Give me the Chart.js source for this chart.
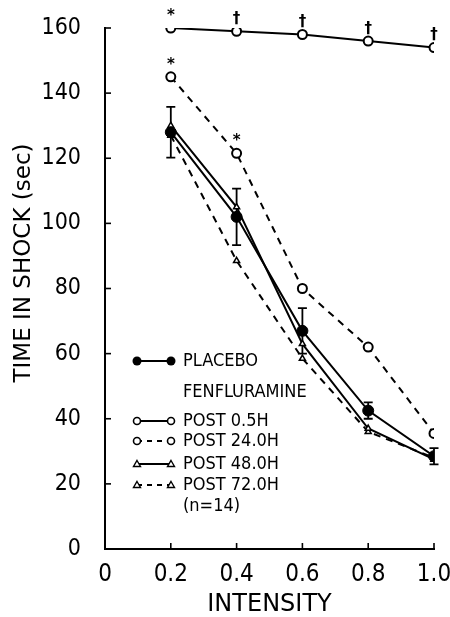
<!DOCTYPE html>
<html><head><meta charset="utf-8">
<script src="https://cdn.jsdelivr.net/npm/chart.js@4/dist/chart.umd.min.js"></script>
<style>html,body{margin:0;padding:0;background:#fff}</style>
</head><body>
<canvas id="c" width="450" height="617" style="width:450px;height:617px;display:block"></canvas>
<script>
// ---- data ----
const intensities = [0.2, 0.4, 0.6, 0.8, 1.0];
const xTickLabels = ['0', '0.2', '0.4', '0.6', '0.8', '1.0'];
const yTickValues = [0, 20, 40, 60, 80, 100, 120, 140, 160];
const placebo    = [128, 102, 67, 42.5, 28.5];
const placeboErr = [7.8, 8.7, 7, 2.5, 2.5];
const post05     = [160, 159, 158, 156, 154];
const post24     = [145, 121.5, 80, 62, 35.5];
const post48     = [130, 105, 63, 37, 27.5];
const post72     = [127, 88.5, 58.5, 36, 28];
const marks05    = ['*', '†', '†', '†', '†'];
const marks24    = ['*', '*', '', '', ''];
const xTitle = 'INTENSITY';
const yTitle = 'TIME IN SHOCK (sec)';
const legendHeader = 'FENFLURAMINE';
const legendNote = '(n=14)';

const FONT = "'DejaVu Sans Condensed', 'Liberation Sans Narrow', sans-serif";
const pts = arr => intensities.map((x, i) => ({x, y: arr[i]}));

const datasets = [
  {label: 'PLACEBO', data: pts(placebo), borderColor: '#000', borderWidth: 2,
   pointStyle: 'circle', pointRadius: 5.5, pointBackgroundColor: '#000', pointBorderColor: '#000', pointBorderWidth: 1, order: 0},
  {label: 'POST 0.5H', data: pts(post05), borderColor: '#000', borderWidth: 2,
   pointStyle: 'circle', pointRadius: 4.5, pointBackgroundColor: '#fff', pointBorderColor: '#000', pointBorderWidth: 2, order: 1},
  {label: 'POST 24.0H', data: pts(post24), borderColor: '#000', borderWidth: 2, borderDash: [7, 6],
   pointStyle: 'circle', pointRadius: 4.5, pointBackgroundColor: '#fff', pointBorderColor: '#000', pointBorderWidth: 2, order: 2},
  {label: 'POST 48.0H', data: pts(post48), borderColor: '#000', borderWidth: 2,
   pointStyle: 'triangle', pointRadius: 3.5, pointBackgroundColor: '#fff', pointBorderColor: '#000', pointBorderWidth: 1.5, order: 3},
  {label: 'POST 72.0H', data: pts(post72), borderColor: '#000', borderWidth: 2, borderDash: [7, 6],
   pointStyle: 'triangle', pointRadius: 3.5, pointBackgroundColor: '#fff', pointBorderColor: '#000', pointBorderWidth: 1.5, order: 4}
];

const legendRows = [
  {ds: 0, y: 361, dash: [], marker: 'fcircle'},
  {text: legendHeader, y: 392},
  {ds: 1, y: 421, dash: [], marker: 'ocircle'},
  {ds: 2, y: 441, dash: [5, 5], marker: 'ocircle'},
  {ds: 3, y: 464, dash: [], marker: 'tri'},
  {ds: 4, y: 485, dash: [5, 5], marker: 'tri'},
  {text: legendNote, y: 506}
];

function drawMarker(ctx, type, x, y) {
  ctx.save();
  ctx.setLineDash([]);
  ctx.strokeStyle = '#000';
  if (type === 'fcircle') {
    ctx.fillStyle = '#000'; ctx.beginPath(); ctx.arc(x, y, 4.5, 0, Math.PI * 2); ctx.fill();
  } else if (type === 'ocircle') {
    ctx.fillStyle = '#fff'; ctx.lineWidth = 1.6; ctx.beginPath(); ctx.arc(x, y, 3.5, 0, Math.PI * 2); ctx.fill(); ctx.stroke();
  } else {
    ctx.fillStyle = '#fff'; ctx.lineWidth = 1.4; ctx.beginPath();
    ctx.moveTo(x, y - 3.5); ctx.lineTo(x + 3.5, y + 2.5); ctx.lineTo(x - 3.5, y + 2.5); ctx.closePath(); ctx.fill(); ctx.stroke();
  }
  ctx.restore();
}

const decor = {
  id: 'decor',
  beforeDatasetsDraw(chart) {
    const ctx = chart.ctx, xs = chart.scales.x, ys = chart.scales.y;
    ctx.save(); ctx.strokeStyle = '#000'; ctx.lineWidth = 1.8;
    intensities.forEach((v, i) => {
      const x = xs.getPixelForValue(v);
      const yt = ys.getPixelForValue(placebo[i] + placeboErr[i]);
      const yb = ys.getPixelForValue(placebo[i] - placeboErr[i]);
      ctx.beginPath();
      ctx.moveTo(x, yt); ctx.lineTo(x, yb);
      ctx.moveTo(x - 4.5, yt); ctx.lineTo(x + 4.5, yt);
      ctx.moveTo(x - 4.5, yb); ctx.lineTo(x + 4.5, yb);
      ctx.stroke();
    });
    ctx.restore();
  },
  afterDraw(chart) {
    const ctx = chart.ctx, xs = chart.scales.x, ys = chart.scales.y, a = chart.chartArea;
    ctx.save();
    // inward ticks
    ctx.strokeStyle = '#000'; ctx.lineWidth = 1.6;
    yTickValues.slice(1).forEach(v => {
      const y = ys.getPixelForValue(v);
      ctx.beginPath(); ctx.moveTo(a.left, y); ctx.lineTo(a.left + 6, y); ctx.stroke();
    });
    intensities.forEach(v => {
      const x = xs.getPixelForValue(v);
      ctx.beginPath(); ctx.moveTo(x, a.bottom); ctx.lineTo(x, a.bottom - 6); ctx.stroke();
    });
    // significance marks
    ctx.fillStyle = '#000'; ctx.textAlign = 'center'; ctx.textBaseline = 'middle';
    ctx.font = "bold 15px 'DejaVu Sans', sans-serif";
    [[1, marks05], [2, marks24]].forEach(([di, marks]) => {
      const meta = chart.getDatasetMeta(di);
      meta.data.forEach((p, i) => { if (marks[i]) ctx.fillText(marks[i], p.x, p.y - 12); });
    });
    // legend
    ctx.font = '18px ' + FONT; ctx.textAlign = 'left';
    legendRows.forEach(r => {
      if (r.text) { ctx.fillText(r.text, 183, r.y); return; }
      ctx.save(); ctx.lineWidth = 2; ctx.setLineDash(r.dash);
      ctx.beginPath(); ctx.moveTo(137, r.y); ctx.lineTo(171, r.y); ctx.stroke(); ctx.restore();
      drawMarker(ctx, r.marker, 137, r.y); drawMarker(ctx, r.marker, 171, r.y);
      ctx.fillText(chart.data.datasets[r.ds].label, 183, r.y);
    });
    // y title
    ctx.font = '23px ' + "'DejaVu Sans', sans-serif";
    ctx.translate(24, 263); ctx.rotate(-Math.PI / 2); ctx.textAlign = 'center';
    ctx.fillText(yTitle, 0, 0);
    ctx.restore();
  }
};

new Chart(document.getElementById('c'), {
  type: 'line',
  data: {datasets},
  options: {
    responsive: false, animation: false, devicePixelRatio: 1,
    layout: {padding: {left: 0, right: 16, top: 28, bottom: 0}},
    plugins: {legend: {display: false}, tooltip: {enabled: false}},
    elements: {line: {tension: 0}},
    scales: {
      x: {type: 'linear', min: 0, max: 1.0,
        afterBuildTicks: s => { s.ticks = xTickLabels.map(t => ({value: parseFloat(t)})); },
        afterFit: s => { s.height = 68; s.paddingLeft = 0; s.paddingRight = 0; },
        grid: {drawOnChartArea: false, drawTicks: false},
        border: {display: true, color: '#000', width: 2},
        ticks: {color: '#000', padding: 11, font: {family: FONT, size: 24}, maxRotation: 0, autoSkip: false,
          callback: (v, i) => xTickLabels[i]},
        title: {display: true, text: xTitle, color: '#000', padding: 0, font: {family: "'DejaVu Sans', sans-serif", size: 24, lineHeight: 1}}
      },
      y: {type: 'linear', min: 0, max: 160,
        afterBuildTicks: s => { s.ticks = yTickValues.map(v => ({value: v})); },
        afterFit: s => { s.width = 105; s.paddingTop = 0; s.paddingBottom = 0; },
        grid: {drawOnChartArea: false, drawTicks: false},
        border: {display: true, color: '#000', width: 2},
        ticks: {color: '#000', padding: 24, font: {family: FONT, size: 23}, autoSkip: false},
        title: {display: false}
      }
    }
  },
  plugins: [decor]
});
</script>
</body></html>
